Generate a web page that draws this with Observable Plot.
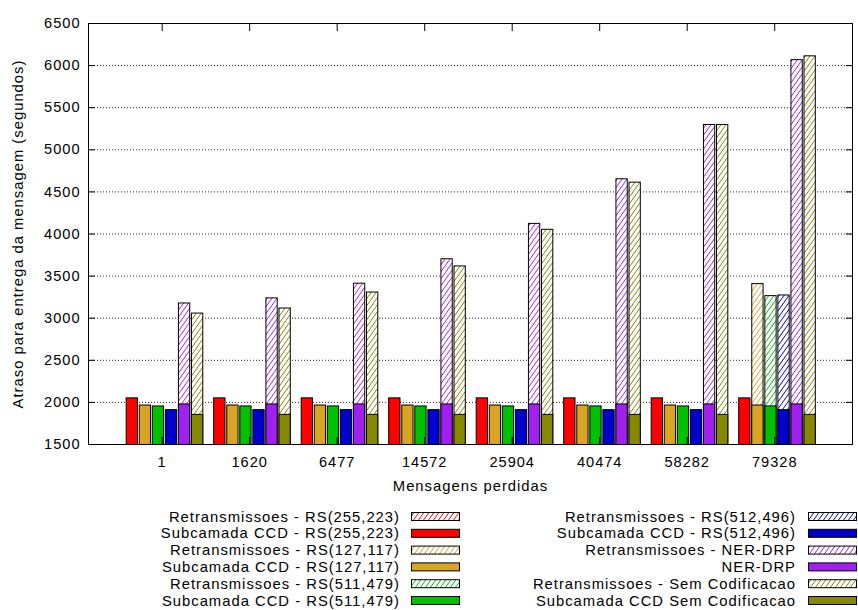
<!DOCTYPE html>
<html><head><meta charset="utf-8">
<script src="https://cdn.jsdelivr.net/npm/d3@7"></script>
<script src="https://cdn.jsdelivr.net/npm/@observablehq/plot@0.6"></script>
<style>body{margin:0;background:#fff} svg{display:block}</style>
</head><body><div id="chart"></div>
<script>
// ---- data ----
const categories = ["1", "1620", "6477", "14572", "25904", "40474", "58282", "79328"];
const yTicks = [1500, 2000, 2500, 3000, 3500, 4000, 4500, 5000, 5500, 6000, 6500];

// Subcamada CCD (solid bars)
const ccdRS255 = [2048, 2048, 2048, 2048, 2048, 2048, 2048, 2048];
const ccdRS127 = [1963, 1963, 1963, 1963, 1963, 1963, 1963, 1963];
const ccdRS511 = [1952, 1952, 1952, 1952, 1952, 1952, 1952, 1952];
const ccdRS512 = [1908, 1908, 1908, 1908, 1908, 1908, 1908, 1908];
const ccdNER   = [1976, 1976, 1976, 1976, 1976, 1976, 1976, 1976];
const ccdSem   = [1852, 1852, 1852, 1852, 1852, 1852, 1852, 1852];

// Retransmissoes (hatched bars; null = not visible above the solid bar)
const retRS255 = [null, null, null, null, null, null, null, null];
const retRS127 = [null, null, null, null, null, null, null, 3405];
const retRS511 = [null, null, null, null, null, null, null, 3262];
const retRS512 = [null, null, null, null, null, null, null, 3270];
const retNER   = [3175, 3235, 3410, 3700, 4120, 4650, 5295, 6065];
const retSem   = [3055, 3115, 3305, 3615, 4050, 4610, 5295, 6110];

const seriesColors = ["#ff0000", "#d9a423", "#00c000", "#0000cc", "#a020f0", "#878700"];
const legendLabels = [
  "Retransmissoes - RS(255,223)", "Subcamada CCD - RS(255,223)",
  "Retransmissoes - RS(127,117)", "Subcamada CCD - RS(127,117)",
  "Retransmissoes - RS(511,479)", "Subcamada CCD - RS(511,479)",
  "Retransmissoes - RS(512,496)", "Subcamada CCD - RS(512,496)",
  "Retransmissoes - NER-DRP", "NER-DRP",
  "Retransmissoes - Sem Codificacao", "Subcamada CCD Sem Codificacao"
];

// ---- layout ----
const ccd = [ccdRS255, ccdRS127, ccdRS511, ccdRS512, ccdNER, ccdSem];
const ret = [retRS255, retRS127, retRS511, retRS512, retNER, retSem];
const unitPx = 87.5;
const slotStart = -35.5 / unitPx, slotPitch = 13.06 / unitPx, barW = 11.3 / unitPx;
const FONT = "'Liberation Sans', Arial, Helvetica, sans-serif";
const FS_TICK = 14.6;
const FS = 14.8;

function rows(values, slot) {
  return values.map((v, i) => ({i, slot, v})).filter(d => d.v != null);
}
function barMark(values, j, fill) {
  return Plot.rect(rows(values, j), {
    x1: d => d.i + slotStart + d.slot * slotPitch,
    x2: d => d.i + slotStart + d.slot * slotPitch + barW,
    y1: 0, y2: "v", fill, stroke: "#000", strokeWidth: 1, clip: true
  });
}

const idx = categories.map((_, i) => i);
const blank = () => "";

const chart = Plot.plot({
  width: 858, height: 610,
  marginLeft: 88, marginRight: 6, marginTop: 23, marginBottom: 166,
  style: {fontFamily: FONT, fontSize: FS + "px", background: "#fff", color: "#000", letterSpacing: "1px"},
  x: {type: "linear", domain: [-0.842, 7.889]},
  y: {type: "linear", domain: [1500, 6500]},
  marks: [
    Plot.ruleY(yTicks.slice(1, -1), {stroke: "#000", strokeDasharray: "1,2", strokeWidth: 1, strokeOpacity: 0.85}),
    ...ret.map((vals, j) => barMark(vals, j, `url(#hatch${j})`)),
    ...ccd.map((vals, j) => barMark(vals, j, seriesColors[j])),
    Plot.axisY({anchor: "left", ticks: yTicks, tickSize: 0, tickPadding: 8, tickFormat: d3.format("d"), fontSize: FS_TICK, label: null}),
    Plot.axisY({anchor: "left", ticks: yTicks, tickSize: 7, insetLeft: 7, tickFormat: blank, label: null}),
    Plot.axisY({anchor: "right", ticks: yTicks, tickSize: 7, insetRight: 7, tickFormat: blank, label: null}),
    Plot.axisX({anchor: "bottom", ticks: idx, tickSize: 0, tickPadding: 12, tickFormat: i => categories[i], fontSize: FS_TICK, label: null}),
    Plot.axisX({anchor: "bottom", ticks: idx, tickSize: 7, insetBottom: 7, tickFormat: blank, label: null}),
    Plot.axisX({anchor: "top", ticks: idx, tickSize: 7, insetTop: 7, tickFormat: blank, label: null}),
    Plot.frame({stroke: "#000", strokeWidth: 1}),
    Plot.text(["Mensagens perdidas"], {frameAnchor: "bottom", textAnchor: "middle", lineAnchor: "top", dy: 36, fontSize: FS}),
    Plot.text(["Atraso para entrega da mensagem (segundos)"], {frameAnchor: "left", textAnchor: "middle", lineAnchor: "middle", rotate: -90, dx: -70.5, fontSize: FS})
  ]
});

const svg = d3.select(chart);
// hatch patterns
const defs = svg.insert("defs", ":first-child");
seriesColors.forEach((c, j) => {
  const p = defs.append("pattern").attr("id", `hatch${j}`)
    .attr("patternUnits", "userSpaceOnUse").attr("width", 5).attr("height", 7);
  p.append("rect").attr("width", 5).attr("height", 7).attr("fill", "#fff");
  p.append("path").attr("d", "M0,7L5,0M-1,1.4L1,-1.4M4,8.4L6,5.6")
    .attr("stroke", c).attr("stroke-width", 1).attr("fill", "none");
});

// legend
const lg = svg.append("g").attr("font-family", FONT).attr("font-size", FS);
legendLabels.forEach((label, k) => {
  const col = Math.floor(k / 6), row = k % 6;
  const textRight = [400, 796][col];
  const swX = [411, 808][col];
  const cy = 516.5 + 16.8 * row;
  const j = Math.floor(k / 2);
  const hatched = k % 2 === 0;
  lg.append("text").attr("x", textRight).attr("y", cy).attr("dy", "0.35em")
    .attr("text-anchor", "end").attr("fill", "#000").text(label);
  lg.append("rect").attr("x", swX + 0.5).attr("y", cy - 4).attr("width", 48).attr("height", 8)
    .attr("fill", hatched ? `url(#hatch${j})` : seriesColors[j]).attr("stroke", "#000").attr("stroke-width", 1);
});

document.getElementById("chart").appendChild(chart);
</script>
</body></html>
